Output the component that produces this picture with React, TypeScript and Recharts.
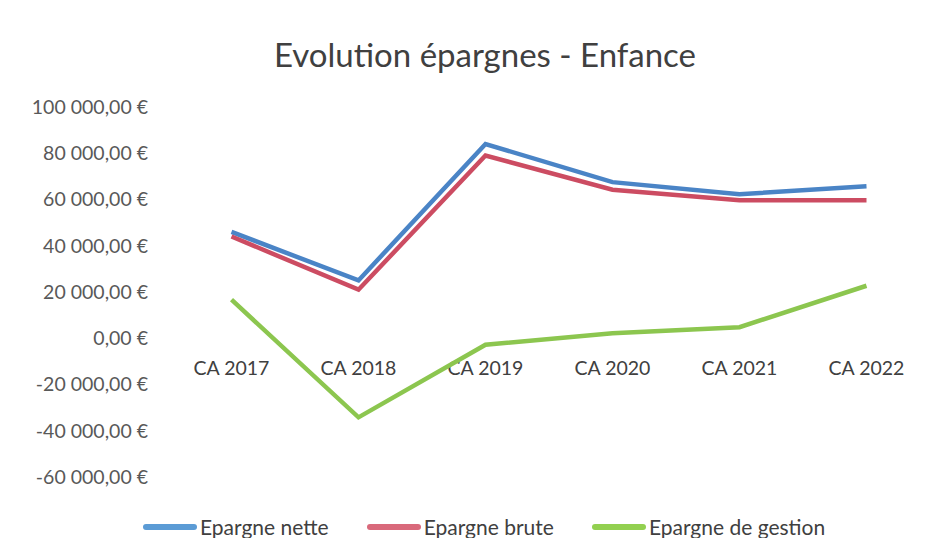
import { Line, LineChart, ReferenceLine, XAxis, YAxis } from 'recharts';

const categories = ['CA 2017', 'CA 2018', 'CA 2019', 'CA 2020', 'CA 2021', 'CA 2022'];
const epargneNette = [46000, 25000, 84000, 67500, 62300, 65700];
const epargneBrute = [44000, 21000, 79000, 64200, 59700, 59700];
const epargneGestion = [16700, -34200, -2800, 2200, 4800, 22700];
const yTicks = [-60000, -40000, -20000, 0, 20000, 40000, 60000, 80000, 100000];

const series = [
  { key: 'nette', name: 'Epargne nette', color: '#4a84c6', legend: '#5b9bd5' },
  { key: 'brute', name: 'Epargne brute', color: '#cc4c62', legend: '#d9697b' },
  { key: 'gestion', name: 'Epargne de gestion', color: '#8cc64f', legend: '#92d050' },
];

const data = categories.map((cat, i) => ({
  cat,
  nette: epargneNette[i],
  brute: epargneBrute[i],
  gestion: epargneGestion[i],
}));

const FONT = 'Lato, "Open Sans", sans-serif';

function formatEuro(v: number) {
  const abs = Math.abs(v)
    .toFixed(0)
    .replace(/\B(?=(\d{3})+(?!\d))/g, ' ');
  return `${v < 0 ? '-' : ''}${abs},00 €`;
}

// category labels sit on the zero line, like the Excel axis crossing at 0
function ZeroAxisLabels(props: any) {
  const vb = props.viewBox;
  if (!vb) return null;
  const step = vb.width / categories.length;
  return (
    <g>
      {categories.map((c, i) => (
        <text
          key={c}
          x={vb.x + step * (i + 0.5)}
          y={vb.y + 37}
          textAnchor="middle"
          fill="#404040"
          fontSize={19.5}
          fontFamily={FONT}
        >
          {c}
        </text>
      ))}
    </g>
  );
}

export default function App() {
  return (
    <div style={{ position: 'relative', width: 947, height: 538, background: '#fff', overflow: 'hidden' }}>
      <style>{'body{margin:0}'}</style>
      <div
        style={{
          position: 'absolute',
          top: 34,
          left: 0,
          width: 970,
          textAlign: 'center',
          fontFamily: FONT,
          fontSize: 33,
          color: '#404040',
        }}
      >
        Evolution épargnes - Enfance
      </div>
      <LineChart width={947} height={538} data={data} margin={{ top: 107, right: 17, left: 0, bottom: 61 }}>
        <XAxis dataKey="cat" scale="band" hide />
        <YAxis
          domain={[-60000, 100000]}
          ticks={yTicks}
          interval={0}
          width={168}
          axisLine={false}
          tickLine={false}
          tickSize={0}
          tickMargin={20}
          tickFormatter={formatEuro}
          tick={{ fill: '#595959', fontSize: 19.5, fontFamily: FONT }}
        />
        <ReferenceLine y={0} stroke="none" label={<ZeroAxisLabels />} />
        {series.map((s) => (
          <Line
            key={s.key}
            type="linear"
            dataKey={s.key}
            name={s.name}
            stroke={s.color}
            strokeWidth={4.5}
            dot={false}
            isAnimationActive={false}
          />
        ))}
      </LineChart>
      <div
        style={{
          position: 'absolute',
          top: 514,
          left: 143,
          display: 'flex',
          alignItems: 'center',
          fontFamily: FONT,
          fontSize: 21,
          color: '#404040',
        }}
      >
        {series.map((s, i) => (
          <div key={s.key} style={{ display: 'flex', alignItems: 'center', marginLeft: i === 0 ? 0 : 38 }}>
            <span
              style={{
                display: 'inline-block',
                width: 54,
                height: 6,
                borderRadius: 3,
                background: s.legend,
                marginRight: 3,
              }}
            />
            <span>{s.name}</span>
          </div>
        ))}
      </div>
    </div>
  );
}
